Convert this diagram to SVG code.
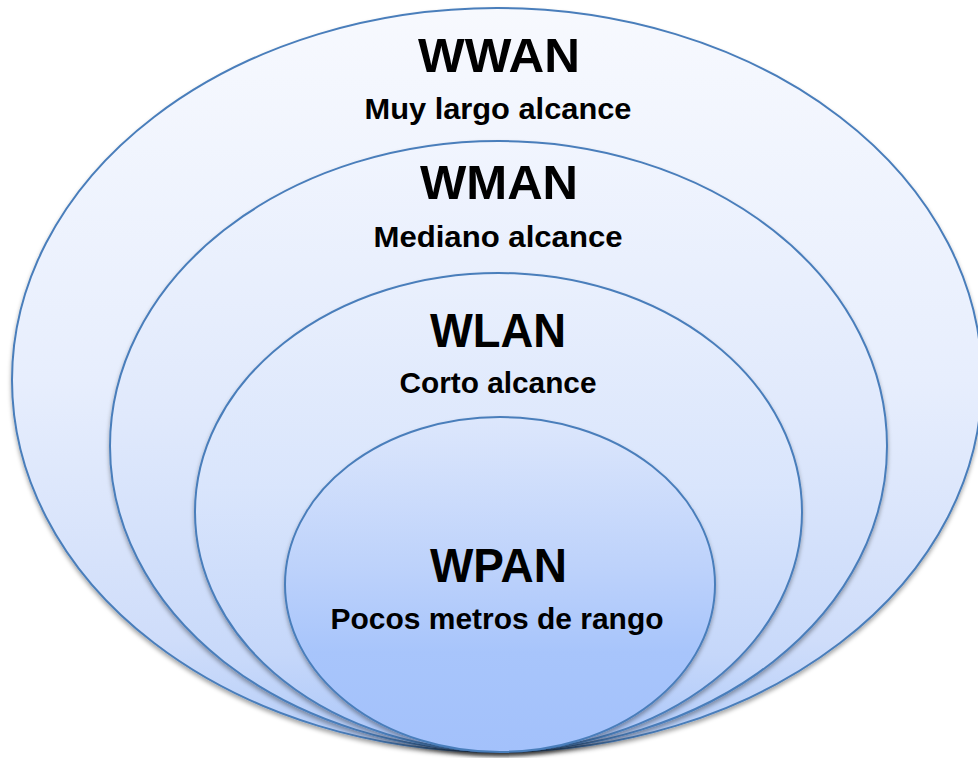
<svg xmlns="http://www.w3.org/2000/svg" width="978" height="758" viewBox="0 0 978 758">
  <defs>
    <!-- vertical fills, light at the top and blue at the bottom -->
    <linearGradient id="gWwan" x1="0" y1="0" x2="0" y2="1">
      <stop offset="0" stop-color="#f7f9fe"/>
      <stop offset="0.5" stop-color="#e7eefd"/>
      <stop offset="0.85" stop-color="#cfddfa"/>
      <stop offset="1" stop-color="#b3ccf8"/>
    </linearGradient>
    <linearGradient id="gWman" x1="0" y1="0" x2="0" y2="1">
      <stop offset="0" stop-color="#f1f5fe"/>
      <stop offset="0.45" stop-color="#e0e9fc"/>
      <stop offset="0.85" stop-color="#c8d9fa"/>
      <stop offset="1" stop-color="#afc9f8"/>
    </linearGradient>
    <linearGradient id="gWlan" x1="0" y1="0" x2="0" y2="1">
      <stop offset="0" stop-color="#eaf0fd"/>
      <stop offset="0.45" stop-color="#d9e5fc"/>
      <stop offset="0.8" stop-color="#c5d7fa"/>
      <stop offset="1" stop-color="#aac6f9"/>
    </linearGradient>
    <linearGradient id="gWpan" x1="0" y1="0" x2="0" y2="1">
      <stop offset="0" stop-color="#dde7fc"/>
      <stop offset="0.45" stop-color="#bdd2fb"/>
      <stop offset="0.7" stop-color="#a8c5fb"/>
      <stop offset="1" stop-color="#a3c1fb"/>
    </linearGradient>
    <filter id="shadow" x="-5%" y="-5%" width="110%" height="112%">
      <feDropShadow dx="0" dy="3" stdDeviation="2.2" flood-color="#000" flood-opacity="0.35"/>
    </filter>
  </defs>
  <style>
    .ring { stroke: #4a7ebb; stroke-width: 2; filter: url(#shadow); }
    .title { font-family: "Liberation Sans", Arial, sans-serif; font-weight: bold; font-size: 49px; fill: #000; text-anchor: middle; }
    .sub { font-family: "Liberation Sans", Arial, sans-serif; font-weight: bold; font-size: 30px; fill: #000; text-anchor: middle; }
  </style>

  <rect width="978" height="758" fill="#ffffff"/>

  <g id="wwan">
    <ellipse class="ring" cx="497" cy="380" rx="485" ry="372" fill="url(#gWwan)"/>
    <text class="title" x="499" y="72" textLength="162" lengthAdjust="spacingAndGlyphs">WWAN</text>
    <text class="sub" x="498" y="119" textLength="267" lengthAdjust="spacingAndGlyphs">Muy largo alcance</text>
  </g>

  <g id="wman">
    <ellipse class="ring" cx="498.5" cy="446" rx="388.5" ry="305" fill="url(#gWman)"/>
    <text class="title" x="499" y="199" textLength="158" lengthAdjust="spacingAndGlyphs">WMAN</text>
    <text class="sub" x="498" y="247" textLength="249" lengthAdjust="spacingAndGlyphs">Mediano alcance</text>
  </g>

  <g id="wlan">
    <ellipse class="ring" cx="498.5" cy="512" rx="303.5" ry="239" fill="url(#gWlan)"/>
    <text class="title" x="498" y="347" textLength="136" lengthAdjust="spacingAndGlyphs">WLAN</text>
    <text class="sub" x="498" y="393" textLength="197" lengthAdjust="spacingAndGlyphs">Corto alcance</text>
  </g>

  <g id="wpan">
    <ellipse class="ring" cx="500" cy="584.5" rx="215" ry="167.5" fill="url(#gWpan)"/>
    <text class="title" x="498.5" y="582" textLength="137" lengthAdjust="spacingAndGlyphs">WPAN</text>
    <text class="sub" x="497" y="629" textLength="333" lengthAdjust="spacingAndGlyphs">Pocos metros de rango</text>
  </g>

  <g id="connectors"/>
</svg>
